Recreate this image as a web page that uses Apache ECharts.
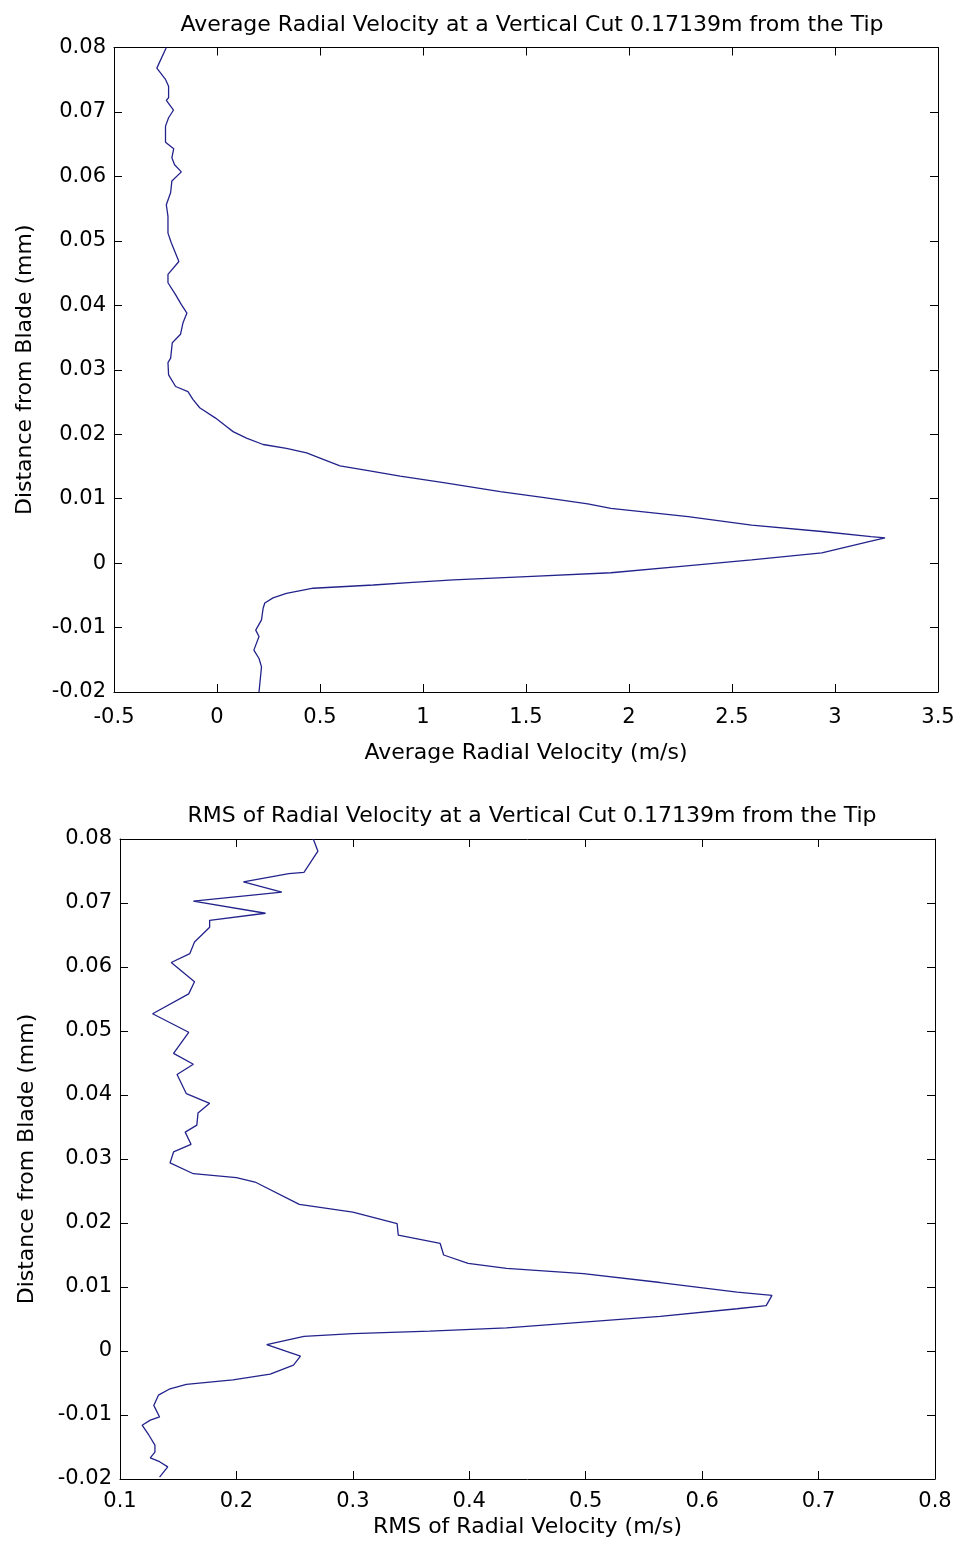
<!DOCTYPE html>
<html>
<head>
<meta charset="utf-8">
<script src="https://cdn.jsdelivr.net/npm/echarts@6/dist/echarts.min.js"></script>
<style>
html,body{margin:0;padding:0;background:#fff;}
#main{width:959px;height:1549px;}
</style>
</head>
<body>
<div id="main"></div>
<script>
// ---- Top plot: average radial velocity ----
var avgDist = [0.080,0.0768,0.0751,0.0740,0.0722,0.0718,0.0703,0.0691,0.0678,0.0653,0.0643,0.0629,0.0618,0.0607,0.0593,0.0575,0.0556,0.0538,0.0512,0.0497,0.0468,0.0448,0.0435,0.0417,0.0401,0.0388,0.0373,0.0355,0.0342,0.0318,0.0311,0.0292,0.0274,0.0266,0.0254,0.0241,0.0225,0.0212,0.0204,0.0194,0.0184,0.0178,0.0171,0.0163,0.0151,0.0144,0.0135,0.0125,0.0111,0.0102,0.0092,0.0085,0.0072,0.0059,0.0049,0.0041,0.0039,0.0034,0.0016,0.0005,-0.0005,-0.0015,-0.0021,-0.0026,-0.0030,-0.0034,-0.0039,-0.0047,-0.0054,-0.0062,-0.0070,-0.0088,-0.0104,-0.0114,-0.0135,-0.0148,-0.0161,-0.0200];
var avgVel = [-0.246,-0.292,-0.251,-0.235,-0.235,-0.246,-0.211,-0.235,-0.250,-0.250,-0.210,-0.219,-0.206,-0.173,-0.219,-0.225,-0.246,-0.238,-0.238,-0.222,-0.185,-0.238,-0.238,-0.202,-0.173,-0.146,-0.165,-0.177,-0.217,-0.225,-0.238,-0.235,-0.201,-0.141,-0.117,-0.084,-0.007,0.046,0.078,0.143,0.224,0.337,0.435,0.500,0.597,0.727,0.889,1.100,1.375,1.580,1.800,1.912,2.287,2.595,2.936,3.175,3.243,3.175,2.936,2.595,2.253,1.912,1.503,1.148,0.950,0.759,0.467,0.337,0.272,0.232,0.224,0.216,0.188,0.204,0.179,0.204,0.216,0.204];

// ---- Bottom plot: RMS of radial velocity ----
var rmsDist = [0.080,0.0781,0.0748,0.0746,0.0733,0.0717,0.0703,0.0684,0.0673,0.0662,0.0639,0.0621,0.0607,0.0577,0.0558,0.0527,0.0498,0.0465,0.0448,0.0432,0.0402,0.0387,0.0372,0.0353,0.0342,0.0323,0.0311,0.0294,0.0277,0.0271,0.0264,0.0229,0.0217,0.0199,0.0181,0.0168,0.0150,0.0137,0.0129,0.0121,0.0107,0.0092,0.0087,0.0071,0.0066,0.0054,0.0045,0.0036,0.0031,0.0027,0.0023,0.0010,-0.0008,-0.0022,-0.0036,-0.0045,-0.0052,-0.0059,-0.0069,-0.0085,-0.0103,-0.0108,-0.0116,-0.0132,-0.0147,-0.0158,-0.0167,-0.0173,-0.0181,-0.0197];
var rmsVel = [0.266,0.270,0.258,0.245,0.206,0.239,0.163,0.225,0.177,0.177,0.164,0.160,0.144,0.164,0.159,0.128,0.159,0.146,0.163,0.149,0.157,0.177,0.167,0.166,0.156,0.161,0.146,0.143,0.163,0.200,0.216,0.254,0.300,0.338,0.339,0.375,0.378,0.399,0.432,0.498,0.564,0.630,0.660,0.655,0.630,0.564,0.498,0.432,0.366,0.300,0.258,0.226,0.255,0.249,0.229,0.197,0.157,0.143,0.133,0.129,0.134,0.126,0.119,0.125,0.130,0.130,0.126,0.134,0.141,0.134];

// ---- Tick labels ----
var yTickLabels = ['-0.02','-0.01','0','0.01','0.02','0.03','0.04','0.05','0.06','0.07','0.08'];
var xTickLabelsTop = ['-0.5','0','0.5','1','1.5','2','2.5','3','3.5'];
var xTickLabelsBottom = ['0.1','0.2','0.3','0.4','0.5','0.6','0.7','0.8'];

var titles = ['Average Radial Velocity at a Vertical Cut 0.17139m from the Tip',
              'RMS of Radial Velocity at a Vertical Cut 0.17139m from the Tip'];
var xNames = ['Average Radial Velocity (m/s)','RMS of Radial Velocity (m/s)'];
var yName = 'Distance from Blade (mm)';

function zip(xs, ys){ return xs.map(function(x,i){ return [x, ys[i]]; }); }
function lookup(labels, min, step){
  return function(v){ var i = Math.round((v - min)/step); return labels[i] !== undefined ? labels[i] : ''; };
}

var FONT = 'DejaVu Sans';
var lineCol = '#000';
var curveCol = '#23238c';
var tickFs = 21, nameFs = 22;

function xAxisPair(gi, min, max, interval, labels, name, nameGap, margin){
  var common = {type:'value', gridIndex:gi, min:min, max:max, interval:interval,
    axisLine:{show:true, onZero:false, lineStyle:{color:lineCol,width:1}},
    axisTick:{show:true, inside:true, length:8, lineStyle:{color:lineCol}},
    splitLine:{show:false}};
  return [
    Object.assign({}, common, {position:'bottom',
      axisLabel:{show:true, color:'#000', fontFamily:FONT, fontSize:tickFs, margin:margin, formatter: lookup(labels, min, interval)},
      name:name, nameLocation:'middle', nameGap:nameGap,
      nameTextStyle:{color:'#000', fontFamily:FONT, fontSize:nameFs}}),
    Object.assign({}, common, {position:'top', axisLabel:{show:false}})
  ];
}
function yAxisPair(gi, nameGap){
  var common = {type:'value', gridIndex:gi, min:-0.02, max:0.08, interval:0.01,
    axisLine:{show:true, onZero:false, lineStyle:{color:lineCol,width:1}},
    axisTick:{show:true, inside:true, length:8, lineStyle:{color:lineCol}},
    splitLine:{show:false}};
  return [
    Object.assign({}, common, {position:'left',
      axisLabel:{show:true, color:'#000', fontFamily:FONT, fontSize:tickFs, margin:8, formatter: lookup(yTickLabels, -0.02, 0.01)},
      name:yName, nameLocation:'middle', nameGap:nameGap, nameRotate:90,
      nameTextStyle:{color:'#000', fontFamily:FONT, fontSize:nameFs}}),
    Object.assign({}, common, {position:'right', axisLabel:{show:false}})
  ];
}

var xA = xAxisPair(0, -0.5, 3.5, 0.5, xTickLabelsTop, xNames[0], 50, 15)
  .concat(xAxisPair(1, 0.1, 0.8, 0.1, xTickLabelsBottom, xNames[1], 37, 12));
var yA = yAxisPair(0, 78).concat(yAxisPair(1, 82));

var option = {
  animation:false,
  backgroundColor:'#fff',
  title:[
    {text:titles[0], left:527, top:9, textAlign:'center', textStyle:{fontFamily:FONT, fontSize:nameFs, fontWeight:'normal', color:'#000'}},
    {text:titles[1], left:527, top:800, textAlign:'center', textStyle:{fontFamily:FONT, fontSize:nameFs, fontWeight:'normal', color:'#000'}}
  ],
  grid:[
    {left:114, top:47.5, width:824, height:644.5, show:true, borderColor:lineCol, borderWidth:0, backgroundColor:'#fff'},
    {left:120, top:839, width:815, height:640, show:true, borderColor:lineCol, borderWidth:0, backgroundColor:'#fff'}
  ],
  xAxis:xA,
  yAxis:yA,
  series:[
    {type:'line', xAxisIndex:0, yAxisIndex:0, data:zip(avgVel, avgDist), showSymbol:false, symbol:'none',
     lineStyle:{color:curveCol, width:1.3}, clip:true},
    {type:'line', xAxisIndex:2, yAxisIndex:2, data:zip(rmsVel, rmsDist), showSymbol:false, symbol:'none',
     lineStyle:{color:curveCol, width:1.3}, clip:true}
  ]
};
var chart = echarts.init(document.getElementById('main'), null, {renderer:'canvas'});
chart.setOption(option);
</script>
</body>
</html>
